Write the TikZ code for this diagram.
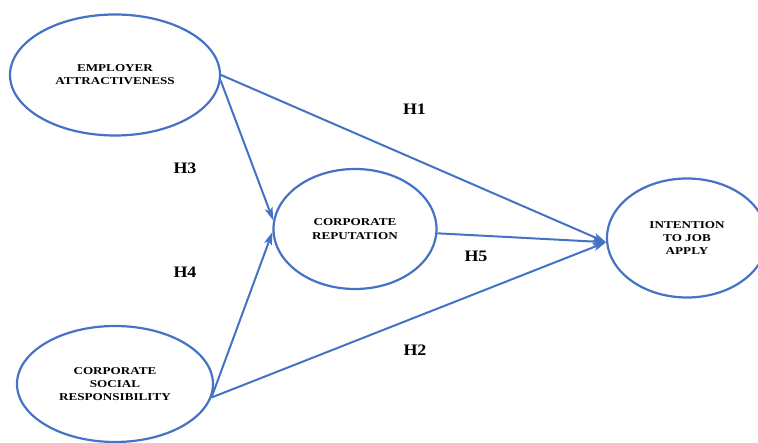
\documentclass[tikz,border=0pt]{standalone}
\usepackage{fontspec}
\setmainfont{Liberation Serif}
\newfontfamily\widefont{Liberation Serif}[FakeStretch=1.25]
\newfontfamily\hypfont{Liberation Serif}[FakeStretch=1.12]
\usetikzlibrary{arrows.meta,shapes.geometric}
\definecolor{linkblue}{RGB}{68,114,196}
\tikzset{
  construct/.style={ellipse, draw=linkblue, line width=2.2pt, inner sep=0pt,
    align=center, font=\widefont\fontsize{10.5}{13.2}\selectfont\bfseries},
  path/.style={draw=linkblue, line width=2pt,
    -{Stealth[length=13pt,width=8pt,inset=3pt]}},
  hyp/.style={font=\hypfont\fontsize{16}{18}\selectfont\bfseries}
}
\begin{document}
\begin{tikzpicture}[x=1pt,y=-1pt]
  \useasboundingbox (0,0) rectangle (758,443);
  % constructs
  \node[construct, minimum width=210pt, minimum height=121pt] (ea) at (115,75)
    {EMPLOYER\\ATTRACTIVENESS};
  \node[construct, minimum width=196pt, minimum height=116pt] (csr) at (115,384)
    {CORPORATE\\SOCIAL\\RESPONSIBILITY};
  \node[construct, minimum width=163pt, minimum height=120pt] (cr) at (355,229)
    {CORPORATE\\REPUTATION};
  \node[construct, minimum width=160pt, minimum height=119pt] (int) at (687,238)
    {INTENTION\\TO JOB\\APPLY};
  % hypothesised paths
  \draw[path] (ea.east) -- (int.183);
  \draw[path] (ea.-3) -- (cr.174);
  \draw[path] (csr.-8) -- (cr.182);
  \draw[path] (csr.-8) -- (int.183);
  \draw[path] (cr.-3) -- (int.183);
  % path labels
  \node[hyp] (h1) at (414.5,109.5) {H1};
  \node[hyp] (h3) at (185,168) {H3};
  \node[hyp] (h4) at (185,272) {H4};
  \node[hyp] (h5) at (476,256) {H5};
  \node[hyp] (h2) at (415,350) {H2};
\end{tikzpicture}
\end{document}
